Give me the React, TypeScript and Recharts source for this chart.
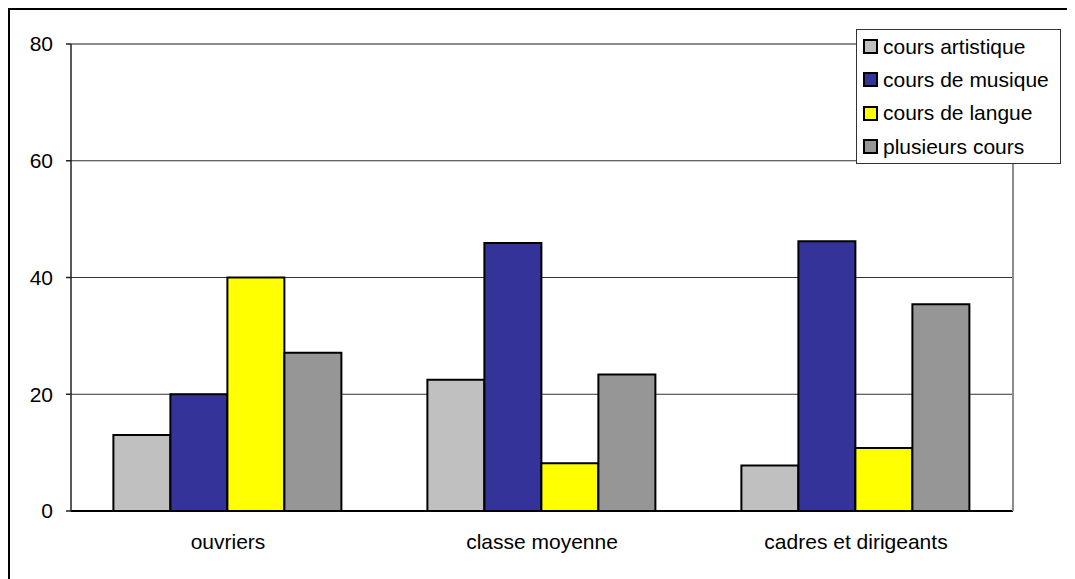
import { Bar, BarChart, CartesianGrid, Legend, ReferenceLine, XAxis, YAxis } from "recharts";

const categories = ["ouvriers", "classe moyenne", "cadres et dirigeants"];
const artistique = [13, 22.5, 7.8];
const musique = [20, 45.9, 46.2];
const langue = [40, 8.2, 10.8];
const plusieurs = [27.1, 23.4, 35.4];
const yTicks = [0, 20, 40, 60, 80];
const gridValues = [20, 40, 60];
const edgeTicks = [0, 1, 2, 3];

const SERIES = [
  { key: "artistique", name: "cours artistique", color: "#C0C0C0" },
  { key: "musique", name: "cours de musique", color: "#333399" },
  { key: "langue", name: "cours de langue", color: "#FFFF00" },
  { key: "plusieurs", name: "plusieurs cours", color: "#969696" },
];

const data = categories.map((name, i) => ({
  name,
  artistique: artistique[i],
  musique: musique[i],
  langue: langue[i],
  plusieurs: plusieurs[i],
}));

const FONT = "'Liberation Sans', Arial, sans-serif";

function LegendBox() {
  return (
    <div
      style={{
        width: 205,
        height: 135,
        boxSizing: "border-box",
        border: "1.5px solid #333",
        background: "#fff",
        fontFamily: FONT,
        fontSize: 21,
        color: "#000",
      }}
    >
      {SERIES.map((s) => (
        <div key={s.key} style={{ height: 33.3, display: "flex", alignItems: "center", paddingLeft: 6 }}>
          <span
            style={{
              width: 15,
              height: 15,
              boxSizing: "border-box",
              border: "2px solid #000",
              background: s.color,
              marginRight: 5,
              flexShrink: 0,
            }}
          />
          <span style={{ whiteSpace: "nowrap" }}>{s.name}</span>
        </div>
      ))}
    </div>
  );
}

export default function App() {
  return (
    <div style={{ position: "relative", width: 1067, height: 571, overflow: "hidden", fontFamily: FONT }}>
      <div style={{ position: "absolute", left: 0, top: 0, width: 2, height: 571, background: "#000" }} />
      <div style={{ position: "absolute", left: 0, top: 0, width: 1067, height: 2, background: "#000" }} />
      <BarChart
        width={1067}
        height={571}
        data={data}
        margin={{ top: 36, right: 61, bottom: 0, left: 0 }}
        barCategoryGap="13.5%"
        barGap={0}
      >
        <CartesianGrid vertical={false} horizontalValues={gridValues} stroke="#333" strokeWidth={1} />
        {/* boundary tick marks + axis line, sits right under the plot */}
        <XAxis
          xAxisId={0}
          type="number"
          domain={[0, 3]}
          ticks={edgeTicks}
          tick={false}
          axisLine={{ stroke: "#000", strokeWidth: 2 }}
          tickLine={{ stroke: "#333", strokeWidth: 1.5 }}
          tickSize={5}
          height={1}
        />
        <XAxis
          xAxisId="cat"
          dataKey="name"
          height={67}
          tickLine={false}
          tickSize={0}
          tickMargin={22}
          axisLine={false}
          tick={{ fill: "#000", fontSize: 21, fontFamily: FONT }}
        />
        <YAxis
          domain={[0, 80]}
          ticks={yTicks}
          width={63}
          tickSize={5}
          tickMargin={13}
          axisLine={{ stroke: "#222", strokeWidth: 1.5 }}
          tickLine={{ stroke: "#222", strokeWidth: 1.5 }}
          tick={{ fill: "#000", fontSize: 21, fontFamily: FONT }}
        />
        <YAxis
          yAxisId="r"
          orientation="right"
          domain={[0, 80]}
          width={1}
          tick={false}
          tickLine={false}
          axisLine={{ stroke: "#8c8c8c", strokeWidth: 2 }}
        />
        <ReferenceLine y={80} stroke="#8c8c8c" strokeWidth={2} />
        {SERIES.map((s) => (
          <Bar
            key={s.key}
            xAxisId="cat"
            dataKey={s.key}
            name={s.name}
            fill={s.color}
            stroke="#000"
            strokeWidth={2}
            isAnimationActive={false}
          />
        ))}
        <Legend
          layout="horizontal"
          verticalAlign="middle"
          align="center"
          wrapperStyle={{ left: 848, top: 21, width: 205, height: 135 }}
          content={() => <LegendBox />}
        />
      </BarChart>
    </div>
  );
}
